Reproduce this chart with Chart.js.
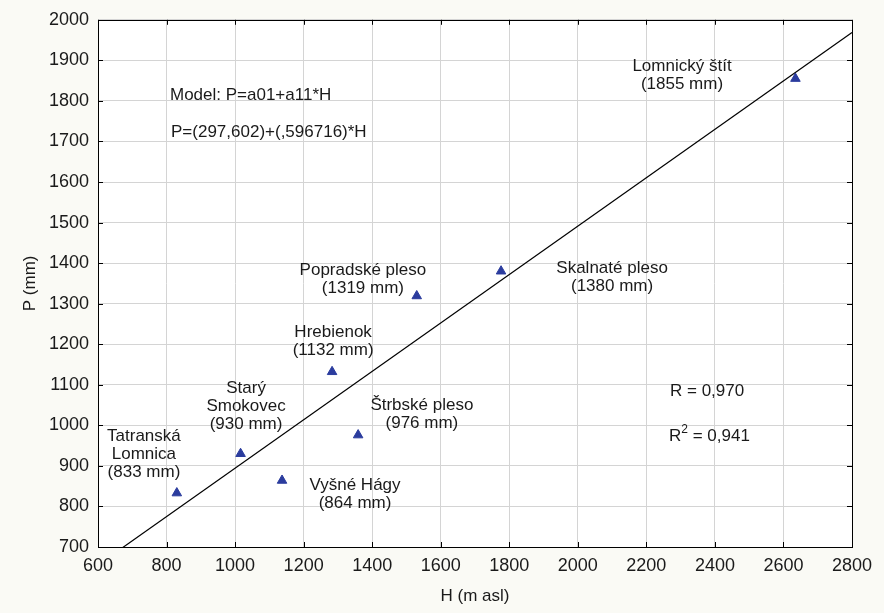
<!DOCTYPE html>
<html>
<head>
<meta charset="utf-8">
<script src="https://cdn.jsdelivr.net/npm/chart.js@4/dist/chart.umd.min.js"></script>
<style>
  html, body { margin: 0; padding: 0; background: #fafaf5; }
  #wrap { width: 884px; height: 613px; }
</style>
</head>
<body>
<div id="wrap"><canvas id="chart" width="884" height="613"></canvas></div>
<script>
// stations: altitude H (m asl) and precipitation P (mm)
const stations = ['Tatranská Lomnica', 'Starý Smokovec', 'Vyšné Hágy', 'Hrebienok',
    'Štrbské pleso', 'Popradské pleso', 'Skalnaté pleso', 'Lomnický štít'];
const altitude = [830, 1016, 1137, 1283, 1359, 1530, 1776, 2635];
const precip = [833, 930, 864, 1132, 976, 1319, 1380, 1855];

// regression line P = 297.602 + 0.596716*H, end points inside the plot
const lineH = [665, 2800];
const lineP = [694.4, 1968.4];

const xTicks = [600, 800, 1000, 1200, 1400, 1600, 1800, 2000, 2200, 2400, 2600, 2800];
const yTicks = [700, 800, 900, 1000, 1100, 1200, 1300, 1400, 1500, 1600, 1700, 1800, 1900, 2000];

// text labels (anchor in data units)
const notes = [
    { x: 2304, y: 1885, lines: ['Lomnický štít', '(1855 mm)'] },
    { x: 1373, y: 1383, lines: ['Popradské pleso', '(1319 mm)'] },
    { x: 2100, y: 1388, lines: ['Skalnaté pleso', '(1380 mm)'] },
    { x: 1286, y: 1229, lines: ['Hrebienok', '(1132 mm)'] },
    { x: 1032, y: 1092, lines: ['Starý', 'Smokovec', '(930 mm)'] },
    { x: 1545, y: 1050, lines: ['Štrbské pleso', '(976 mm)'] },
    { x: 734, y: 972, lines: ['Tatranská', 'Lomnica', '(833 mm)'] },
    { x: 1350, y: 852, lines: ['Vyšné Hágy', '(864 mm)'] },
    { x: 810, y: 1814, lines: ['Model: P=a01+a11*H'], align: 'left' },
    { x: 813, y: 1723, lines: ['P=(297,602)+(,596716)*H'], align: 'left' },
    { x: 2269, y: 1084, lines: ['R = 0,970'], align: 'left' }
];

const FONT = '"Liberation Sans", Arial, sans-serif';

const frame = {
    id: 'frame',
    beforeDraw(chart) {
        const { ctx, chartArea: a } = chart;
        ctx.save();
        ctx.fillStyle = '#fafaf5';
        ctx.fillRect(0, 0, chart.width, chart.height);
        ctx.fillStyle = '#ffffff';
        ctx.fillRect(a.left, a.top, a.right - a.left, a.bottom - a.top);
        ctx.restore();
    },
    afterDatasetsDraw(chart) {
        const { ctx, chartArea: a, scales } = chart;
        ctx.save();
        // border and inward ticks
        ctx.strokeStyle = '#000';
        ctx.lineWidth = 1;
        ctx.strokeRect(Math.round(a.left) + 0.5, Math.round(a.top) + 0.5,
            Math.round(a.right - a.left), Math.round(a.bottom - a.top));
        ctx.beginPath();
        xTicks.forEach(v => {
            const px = Math.round(scales.x.getPixelForValue(v)) + 0.5;
            ctx.moveTo(px, a.top); ctx.lineTo(px, a.top + 5);
            ctx.moveTo(px, a.bottom); ctx.lineTo(px, a.bottom - 5);
        });
        yTicks.forEach(v => {
            const py = Math.round(scales.y.getPixelForValue(v)) + 0.5;
            ctx.moveTo(a.left, py); ctx.lineTo(a.left + 5, py);
            ctx.moveTo(a.right, py); ctx.lineTo(a.right - 5, py);
        });
        ctx.stroke();

        // labels
        ctx.fillStyle = '#1a1a1a';
        ctx.font = '17px ' + FONT;
        ctx.textBaseline = 'middle';
        notes.forEach(n => {
            const px = scales.x.getPixelForValue(n.x);
            const py = scales.y.getPixelForValue(n.y);
            ctx.textAlign = n.align || 'center';
            n.lines.forEach((t, i) => ctx.fillText(t, px, py + i * 18));
        });
        // R squared with superscript
        const rx = scales.x.getPixelForValue(2266);
        const ry = scales.y.getPixelForValue(974);
        ctx.textAlign = 'left';
        ctx.fillText('R', rx, ry);
        const w = ctx.measureText('R').width;
        ctx.font = '12px ' + FONT;
        ctx.fillText('2', rx + w, ry - 6);
        const w2 = ctx.measureText('2').width;
        ctx.font = '17px ' + FONT;
        ctx.fillText(' = 0,941', rx + w + w2, ry);
        ctx.restore();
    }
};

new Chart(document.getElementById('chart'), {
    type: 'scatter',
    data: {
        datasets: [{
            label: 'Stations',
            data: altitude.map((h, i) => ({ x: h, y: precip[i] })),
            pointStyle: 'triangle',
            radius: 5.5,
            hoverRadius: 5.5,
            backgroundColor: '#2b3c9e',
            borderColor: '#2b3c9e',
            borderWidth: 1
        }, {
            label: 'Model',
            type: 'line',
            data: lineH.map((h, i) => ({ x: h, y: lineP[i] })),
            borderColor: '#000',
            borderWidth: 1.2,
            pointRadius: 0,
            fill: false,
            clip: 0
        }]
    },
    options: {
        responsive: false,
        animation: false,
        layout: { padding: { top: 16, right: 32, left: 0, bottom: 0 } },
        plugins: { legend: { display: false }, tooltip: { enabled: false } },
        scales: {
            x: {
                type: 'linear',
                min: 600, max: 2800,
                afterBuildTicks: s => { s.ticks = xTicks.map(v => ({ value: v })); },
                afterFit: s => { s.height = 66; },
                ticks: { color: '#1a1a1a', font: { family: FONT, size: 18 }, padding: 8,
                    callback: v => String(v) },
                grid: { color: '#d4d4d4', drawTicks: false },
                border: { display: false },
                title: { display: true, text: 'H (m asl)', color: '#1a1a1a',
                    font: { family: FONT, size: 17 }, padding: { top: 0, bottom: 6 } }
            },
            y: {
                type: 'linear',
                min: 700, max: 2000,
                afterBuildTicks: s => { s.ticks = yTicks.map(v => ({ value: v })); },
                afterFit: s => { s.width = 98; },
                ticks: { color: '#1a1a1a', font: { family: FONT, size: 18 }, padding: 9,
                    callback: v => String(v) },
                grid: { color: '#d4d4d4', drawTicks: false },
                border: { display: false },
                title: { display: true, text: 'P (mm)', color: '#1a1a1a',
                    font: { family: FONT, size: 17 }, padding: { top: 20, bottom: 0 } }
            }
        }
    },
    plugins: [frame]
});
</script>
</body>
</html>
